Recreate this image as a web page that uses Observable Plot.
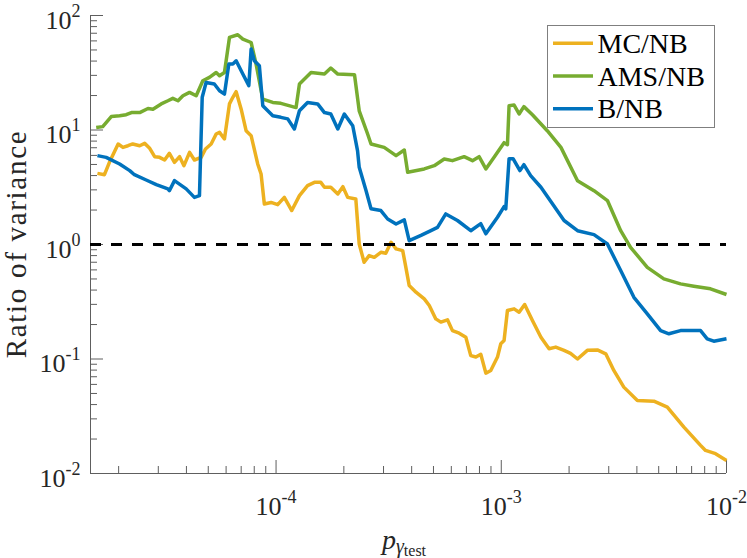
<!DOCTYPE html>
<html>
<head>
<meta charset="utf-8">
<script src="https://cdn.jsdelivr.net/npm/d3@7"></script>
<script src="https://cdn.jsdelivr.net/npm/@observablehq/plot@0.6"></script>
<style>
html, body { margin: 0; padding: 0; background: #fff; }
#chart { position: relative; width: 747px; height: 558px; }
#chart svg text { font-family: "Liberation Serif", "DejaVu Serif", serif; }
</style>
</head>
<body>
<div id="chart"></div>
<script>
// ---------- data ----------
const seriesNames = ["MC/NB", "AMS/NB", "B/NB"];
const seriesColors = ["#EDB120", "#77AC30", "#0072BD"];

const pMC = [1.61e-5, 1.73e-5, 1.82e-5, 1.99e-5, 2.09e-5, 2.20e-5, 2.31e-5, 2.48e-5, 2.61e-5, 2.74e-5,
  2.89e-5, 3.04e-5, 3.20e-5, 3.36e-5, 3.54e-5, 3.73e-5, 3.90e-5, 4.13e-5, 4.34e-5, 4.65e-5,
  4.86e-5, 5.15e-5, 5.42e-5, 5.61e-5, 5.90e-5, 6.21e-5, 6.43e-5, 6.65e-5, 7.00e-5, 7.36e-5,
  7.75e-5, 8.29e-5, 8.58e-5, 8.87e-5, 9.50e-5, 1.017e-4, 1.088e-4, 1.174e-4, 1.27e-4, 1.38e-4,
  1.48e-4, 1.58e-4, 1.64e-4, 1.75e-4, 1.88e-4, 1.98e-4, 2.08e-4, 2.26e-4, 2.34e-4, 2.46e-4,
  2.59e-4, 2.73e-4, 2.92e-4, 3.07e-4, 3.24e-4, 3.41e-4, 3.65e-4, 3.77e-4, 3.90e-4, 4.18e-4,
  4.55e-4, 4.79e-4, 5.12e-4, 5.39e-4, 5.77e-4, 6.07e-4, 6.50e-4, 6.96e-4, 7.32e-4, 7.71e-4,
  8.11e-4, 8.54e-4, 8.98e-4, 9.62e-4, 9.95e-4, 1.029e-3, 1.065e-3, 1.14e-3, 1.20e-3, 1.27e-3,
  1.375e-3, 1.50e-3, 1.63e-3, 1.745e-3, 1.90e-3, 2.03e-3, 2.18e-3, 2.41e-3, 2.67e-3, 2.91e-3,
  3.16e-3, 3.50e-3, 4.02e-3, 4.76e-3, 5.46e-3, 6.47e-3, 7.67e-3, 8.07e-3, 8.94e-3, 1.0e-2];
const rMC = [4.18, 4.07, 5.22, 7.55, 7.05, 7.29, 7.55, 7.29, 7.64, 6.97,
  5.85, 5.77, 5.47, 6.25, 5.22, 5.85, 4.88, 6.38, 5.47, 5.77,
  6.83, 7.55, 9.23, 9.53, 8.35, 16.9, 19.3, 21.6, 15.2, 9.86,
  8.92, 5.05, 4.13, 2.26, 2.33, 2.23, 2.58, 1.98, 2.67, 3.27,
  3.49, 3.49, 3.16, 3.16, 2.76, 3.20, 2.58, 2.50, 1.01, 0.70,
  0.80, 0.773, 0.855, 0.838, 1.045, 0.915, 0.885, 0.632, 0.438, 0.383,
  0.335, 0.293, 0.224, 0.21, 0.22, 0.177, 0.168, 0.155, 0.107, 0.104,
  0.11, 0.0752, 0.0794, 0.104, 0.136, 0.145, 0.265, 0.274, 0.256, 0.299,
  0.217, 0.155, 0.123, 0.127, 0.119, 0.112, 0.100, 0.119, 0.120, 0.111,
  0.0794, 0.0568, 0.0434, 0.0428, 0.038, 0.0254, 0.0176, 0.0159, 0.0149, 0.0130];

const pAMS = [1.59e-5, 1.70e-5, 1.855e-5, 2.02e-5, 2.16e-5, 2.28e-5, 2.48e-5, 2.70e-5, 2.84e-5, 3.09e-5,
  3.31e-5, 3.48e-5, 3.67e-5, 3.86e-5, 4.13e-5, 4.42e-5, 4.73e-5, 5.06e-5, 5.42e-5, 5.61e-5,
  5.90e-5, 6.21e-5, 6.76e-5, 7.12e-5, 7.75e-5, 8.15e-5, 8.73e-5, 9.67e-5, 1.05e-4, 1.227e-4,
  1.27e-4, 1.43e-4, 1.64e-4, 1.75e-4, 1.88e-4, 2.23e-4, 2.34e-4, 2.55e-4, 2.64e-4, 3.02e-4,
  3.41e-4, 3.71e-4, 3.84e-4, 4.55e-4, 5.04e-4, 5.58e-4, 6.07e-4, 6.84e-4, 7.45e-4, 7.97e-4,
  8.54e-4, 9.29e-4, 1.029e-3, 1.065e-3, 1.083e-3, 1.14e-3, 1.20e-3, 1.26e-3, 1.375e-3, 1.60e-3,
  1.84e-3, 2.18e-3, 2.58e-3, 2.96e-3, 3.39e-3, 3.75e-3, 4.45e-3, 5.27e-3, 6.25e-3, 7.16e-3,
  8.49e-3, 1.0e-2];
const rAMS = [10.5, 10.7, 13.1, 13.3, 13.6, 14.2, 14.2, 15.4, 15.2, 16.9,
  18.0, 18.9, 18.0, 19.9, 21.3, 19.9, 26.9, 28.8, 31.8, 29.8,
  31.8, 64.3, 67.9, 62.2, 58.1, 37.7, 18.6, 17.4, 17.1, 15.7,
  25.2, 31.8, 30.8, 34.8, 30.8, 30.4, 14.7, 9.23, 7.55, 7.05,
  5.97, 6.69, 4.27, 4.57, 4.88, 5.58, 5.40, 5.85, 5.40, 5.85,
  4.57, 5.77, 7.75, 7.44, 16.3, 16.5, 13.8, 16.0, 13.6, 9.86,
  7.05, 3.61, 2.95, 2.42, 1.32, 0.945, 0.632, 0.501, 0.453, 0.432,
  0.410, 0.366];

const pB = [1.61e-5, 1.76e-5, 2.02e-5, 2.24e-5, 2.35e-5, 2.65e-5, 2.94e-5, 3.31e-5, 3.36e-5, 3.54e-5,
  3.99e-5, 4.34e-5, 4.57e-5, 4.70e-5, 4.89e-5, 5.32e-5, 5.61e-5, 5.90e-5, 6.17e-5, 6.43e-5,
  6.65e-5, 7.12e-5, 7.57e-5, 7.75e-5, 8.01e-5, 8.43e-5, 8.73e-5, 9.67e-5, 1.05e-4, 1.127e-4,
  1.206e-4, 1.27e-4, 1.38e-4, 1.53e-4, 1.64e-4, 1.75e-4, 1.88e-4, 2.01e-4, 2.19e-4, 2.30e-4,
  2.34e-4, 2.51e-4, 2.64e-4, 2.92e-4, 3.13e-4, 3.41e-4, 3.71e-4, 3.90e-4, 4.40e-4, 4.87e-4,
  5.21e-4, 5.67e-4, 6.39e-4, 7.32e-4, 8.11e-4, 8.54e-4, 9.62e-4, 1.029e-3, 1.047e-3, 1.083e-3,
  1.128e-3, 1.21e-3, 1.26e-3, 1.35e-3, 1.50e-3, 1.90e-3, 2.18e-3, 2.58e-3, 2.96e-3, 3.39e-3,
  3.88e-3, 4.45e-3, 5.10e-3, 5.55e-3, 6.25e-3, 7.67e-3, 8.21e-3, 8.78e-3, 1.0e-2];
const rB = [5.97, 5.77, 5.05, 4.42, 4.07, 3.66, 3.33, 3.06, 2.95, 3.61,
  3.06, 2.58, 2.67, 19.3, 26.0, 25.2, 22.0, 20.6, 37.7, 37.7,
  40.2, 30.8, 24.4, 50.9, 40.2, 36.4, 16.3, 13.3, 12.9, 12.5,
  10.2, 14.7, 17.4, 16.9, 14.2, 13.8, 10.2, 13.8, 10.9, 6.60,
  4.72, 2.95, 2.05, 1.98, 1.67, 1.51, 1.64, 1.08, 1.20, 1.32,
  1.41, 1.85, 1.62, 1.32, 1.52, 1.24, 1.73, 2.14, 2.05, 5.62,
  5.62, 4.42, 4.98, 3.99, 3.16, 1.62, 1.32, 1.22, 1.01, 0.592,
  0.346, 0.248, 0.177, 0.166, 0.177, 0.177, 0.150, 0.143, 0.150];

const referenceRatio = 1;
const xDomain = [1.5e-5, 1e-2];
const yDomain = [1e-2, 1e2];
const xMajorTicks = [1e-4, 1e-3, 1e-2];
const xMinorTicks = [2e-5, 3e-5, 4e-5, 5e-5, 6e-5, 7e-5, 8e-5, 9e-5,
  2e-4, 3e-4, 4e-4, 5e-4, 6e-4, 7e-4, 8e-4, 9e-4,
  2e-3, 3e-3, 4e-3, 5e-3, 6e-3, 7e-3, 8e-3, 9e-3];
const yMajorTicks = [1e-2, 1e-1, 1, 10, 100];
const yMinorTicks = [0.02, 0.03, 0.04, 0.05, 0.06, 0.07, 0.08, 0.09,
  0.2, 0.3, 0.4, 0.5, 0.6, 0.7, 0.8, 0.9,
  2, 3, 4, 5, 6, 7, 8, 9,
  20, 30, 40, 50, 60, 70, 80, 90];
const yLabel = "Ratio of variance";

// ---------- table ----------
const rows = [];
[[pMC, rMC], [pAMS, rAMS], [pB, rB]].forEach(([p, r], i) => {
  p.forEach((v, j) => rows.push({series: seriesNames[i], p: v, r: r[j]}));
});

// ---------- layout ----------
const W = 747, H = 558, mL = 90, mR = 21, mT = 15, mB = 85;
const fw = W - mL - mR, fh = H - mT - mB;
const axisColor = "#5e5e5e";
const textColor = "#262626";
const serif = "Liberation Serif";
const expFormat = d => `10^${Math.round(Math.log10(d))}`;

const plot = Plot.plot({
  width: W, height: H,
  marginLeft: mL, marginRight: mR, marginTop: mT, marginBottom: mB,
  style: {fontFamily: serif, background: "#fff", color: textColor, overflow: "visible"},
  x: {type: "log", domain: xDomain, label: null},
  y: {type: "log", domain: yDomain, label: null},
  color: {domain: seriesNames, range: seriesColors},
  marks: [
    Plot.tickX(xMinorTicks, {x: d => d, stroke: axisColor, strokeWidth: 1, insetTop: fh - 7}),
    Plot.tickX(xMajorTicks, {x: d => d, stroke: axisColor, strokeWidth: 1, insetTop: fh - 13}),
    Plot.tickY(yMinorTicks, {y: d => d, stroke: axisColor, strokeWidth: 1, insetRight: fw - 7}),
    Plot.tickY(yMajorTicks, {y: d => d, stroke: axisColor, strokeWidth: 1, insetRight: fw - 13}),
    Plot.ruleX([xDomain[0]], {stroke: axisColor, strokeWidth: 1}),
    Plot.ruleY([yDomain[0]], {stroke: axisColor, strokeWidth: 1}),
    Plot.axisX(xMajorTicks, {tickSize: 0, tickPadding: 23.5, tickFormat: expFormat,
      fontSize: 26, fontFamily: serif, label: null}),
    Plot.axisY(yMajorTicks, {tickSize: 0, tickPadding: 10, tickFormat: expFormat,
      fontSize: 26, fontFamily: serif, dy: 5, label: null}),
    Plot.line(rows, {x: "p", y: "r", z: "series", stroke: "series", strokeWidth: 3.5,
      strokeLinejoin: "round", strokeLinecap: "butt"}),
    Plot.ruleY([referenceRatio], {stroke: "#000", strokeWidth: 3, strokeDasharray: "11,10"})
  ]
});

const svg = d3.select(plot);

// superscript exponents in tick labels
svg.selectAll('g[aria-label$="tick label"] text').each(function () {
  const t = d3.select(this);
  const s = t.text();
  if (!s.includes("^")) return;
  const [base, exp] = s.split("^");
  t.text(null).attr("font-family", serif);
  t.append("tspan").text(base);
  t.append("tspan").attr("dy", "-12px").attr("font-size", "18px").text(exp);
});

// x-axis label: p with subscript gamma_test
const xl = svg.append("text")
  .attr("x", mL + fw / 2 - 4).attr("y", 549)
  .attr("text-anchor", "middle").attr("fill", textColor)
  .attr("font-family", serif).attr("font-size", 28);
xl.append("tspan").attr("font-style", "italic").text("p");
xl.append("tspan").attr("font-style", "italic").attr("font-size", 20).attr("dy", 4).text("γ");
xl.append("tspan").attr("font-size", 16).attr("dy", 3).text("test");

// y-axis label
svg.append("text")
  .attr("transform", `translate(26,${mT + fh / 2}) rotate(-90)`)
  .attr("text-anchor", "middle").attr("fill", textColor)
  .attr("font-family", serif).attr("font-size", 29)
  .attr("letter-spacing", "1.7px")
  .text(yLabel);

// legend
const lg = svg.append("g").attr("text-anchor", "start");
lg.append("rect").attr("x", 547.5).attr("y", 25.5).attr("width", 167).attr("height", 102)
  .attr("fill", "#fff").attr("stroke", "#7f7f7f").attr("stroke-width", 1);
seriesNames.forEach((name, i) => {
  const cy = 43.3 + i * 32.7;
  lg.append("line").attr("x1", 553).attr("x2", 593).attr("y1", cy).attr("y2", cy)
    .attr("stroke", seriesColors[i]).attr("stroke-width", 3.5);
  lg.append("text").attr("x", 597.5).attr("y", cy + 9.5).attr("text-anchor", "start")
    .attr("font-family", serif).attr("font-size", 28).attr("fill", "#000").text(name);
});

document.getElementById("chart").appendChild(plot);
</script>
</body>
</html>
